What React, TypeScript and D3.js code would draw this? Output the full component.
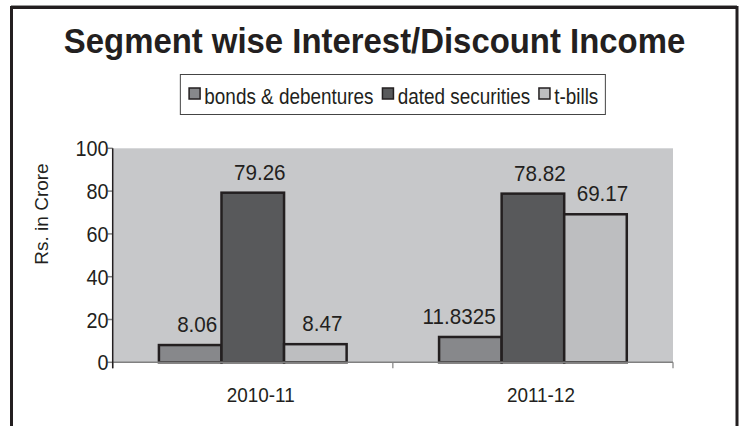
import React from "react";
import * as d3 from "d3";

const categories = ["2010-11", "2011-12"];
const seriesNames = ["bonds & debentures", "dated securities", "t-bills"];
const bondsValues = [8.06, 11.8325];
const datedValues = [79.26, 78.82];
const tbillValues = [8.47, 69.17];
const yTicks = [0, 20, 40, 60, 80, 100];
const seriesColors = ["#87888b", "#58595b", "#bdbec0"];

const FONT = "'Liberation Sans', Arial, Helvetica, sans-serif";
const INK = "#231f20";

function measure(text: string, size: number, weight = "normal") {
  const c = document.createElement("canvas");
  const ctx = c.getContext("2d");
  if (!ctx) return text.length * size * 0.5;
  ctx.font = `${weight} ${size}px ${FONT}`;
  return ctx.measureText(text).width;
}

type TProps = {
  x: number;
  y: number;
  size: number;
  sx?: number;
  anchor?: "start" | "middle" | "end";
  weight?: string;
  children: React.ReactNode;
};
function CText({ x, y, size, sx = 1, anchor = "start", weight = "normal", children }: TProps) {
  return (
    <text
      transform={`translate(${x},${y}) scale(${sx},1)`}
      textAnchor={anchor}
      fontSize={size}
      fontWeight={weight}
      fill={INK}
    >
      {children}
    </text>
  );
}

export default function App() {
  const W = 739;
  const H = 426;
  const plot = { left: 112.7, right: 673, top: 148.3, bottom: 362.3 };
  const seriesValues = [bondsValues, datedValues, tbillValues];

  const x0 = d3
    .scaleBand<string>()
    .domain(categories)
    .range([plot.left, plot.right])
    .paddingInner(0.33)
    .paddingOuter(0.165);
  const x1 = d3
    .scaleBand<number>()
    .domain(d3.range(seriesNames.length))
    .range([0, x0.bandwidth()]);
  const y = d3.scaleLinear().domain([0, 100]).range([plot.bottom, plot.top]);

  const valueFont = 21.5;
  const valueSx = 0.96;
  const legendFont = 22;
  const legendSx = 0.86;
  const items: { x: number; name: string; color: string }[] = [];
  let cursor = 0;
  seriesNames.forEach((n, i) => {
    items.push({ x: cursor, name: n, color: seriesColors[i] });
    cursor += 17 + measure(n, legendFont) * legendSx + 7;
  });
  const legendInner = cursor - 7;
  const legendPad = 8;
  const legendW = legendInner + legendPad + 6;
  const legendX = (plot.left + plot.right) / 2 - legendW / 2;
  const legendY = 74;
  const legendH = 40;

  const stepEdges = [
    plot.left,
    ...categories.map((c, i) =>
      i < categories.length - 1 ? (x0(c)! + x0.bandwidth() + x0(categories[i + 1])!) / 2 : plot.right
    ),
  ];

  return (
    <svg
      width={W}
      height={H}
      style={{ position: "absolute", left: 0, top: 0, background: "#fff" }}
      fontFamily={FONT}
    >
      <rect x={0} y={0} width={W} height={H} fill="#fff" />
      {/* frame */}
      <line x1={11} y1={5.5} x2={737} y2={5.5} stroke="#999" strokeWidth={1} />
      <rect x={11.5} y={7.5} width={725.5} height={520} fill="none" stroke={INK} strokeWidth={3} />

      {/* title */}
      <CText x={374.5} y={53} size={35} sx={0.94} anchor="middle" weight="bold">
        Segment wise Interest/Discount Income
      </CText>

      {/* legend */}
      <rect x={legendX} y={legendY + 0.5} width={legendW} height={legendH} fill="#fff" stroke="#444" strokeWidth={1} />
      {items.map((it, i) => (
        <g key={i} transform={`translate(${legendX + legendPad + it.x},0)`}>
          <rect x={0.75} y={88} width={11} height={11} fill={it.color} stroke={INK} strokeWidth={1.5} />
          <CText x={16} y={104} size={legendFont} sx={legendSx}>
            {it.name}
          </CText>
        </g>
      ))}

      {/* plot background */}
      <rect x={plot.left} y={plot.top} width={plot.right - plot.left} height={plot.bottom - plot.top} fill="#c7c8ca" />

      {/* y axis label */}
      <text transform={`translate(48,214) rotate(-90)`} textAnchor="middle" fontSize={19} fill={INK}>
        Rs. in Crore
      </text>

      {/* y ticks and labels */}
      {yTicks.map((t) => (
        <g key={t}>
          <line x1={107.5} x2={plot.left} y1={y(t)} y2={y(t)} stroke="#808080" strokeWidth={1.5} />
          <CText x={108.5} y={y(t) + 8} size={22} sx={0.9} anchor="end">
            {t}
          </CText>
        </g>
      ))}

      {/* bars */}
      {categories.map((c, ci) => (
        <g key={c} transform={`translate(${x0(c)},0)`}>
          {seriesValues.map((vals, si) => (
            <rect
              key={si}
              x={x1(si)}
              y={y(vals[ci])}
              width={x1.bandwidth()}
              height={y(0) - y(vals[ci])}
              fill={seriesColors[si]}
              stroke={INK}
              strokeWidth={2.5}
            />
          ))}
        </g>
      ))}

      {/* zero line */}
      <line x1={plot.left} x2={plot.right} y1={y(0)} y2={y(0)} stroke="#808080" strokeWidth={1.5} />
      {/* category ticks */}
      {stepEdges.map((e, i) => (
        <line key={i} x1={e} x2={e} y1={y(0)} y2={y(0) + 6} stroke="#808080" strokeWidth={1.2} />
      ))}
      {/* y axis line */}
      <line x1={plot.left} x2={plot.left} y1={plot.top} y2={y(0) + 6} stroke={INK} strokeWidth={1.5} />

      {/* value labels */}
      {categories.map((c, ci) =>
        seriesValues.map((vals, si) => {
          const label = String(vals[ci]);
          const bx = x0(c)! + x1(si)!;
          const bw = x1.bandwidth();
          const tw = measure(label, valueFont) * valueSx;
          const wide = tw > bw;
          return (
            <CText
              key={`${ci}-${si}`}
              x={wide ? bx + bw - 6 : bx + bw / 2 + 7}
              y={y(vals[ci]) - 13}
              anchor={wide ? "end" : "middle"}
              size={valueFont}
              sx={valueSx}
            >
              {label}
            </CText>
          );
        })
      )}

      {/* category labels */}
      {categories.map((c) => (
        <CText key={c} x={x0(c)! + x0.bandwidth() / 2 + 8} y={402} anchor="middle" size={21} sx={0.9}>
          {c}
        </CText>
      ))}
    </svg>
  );
}
